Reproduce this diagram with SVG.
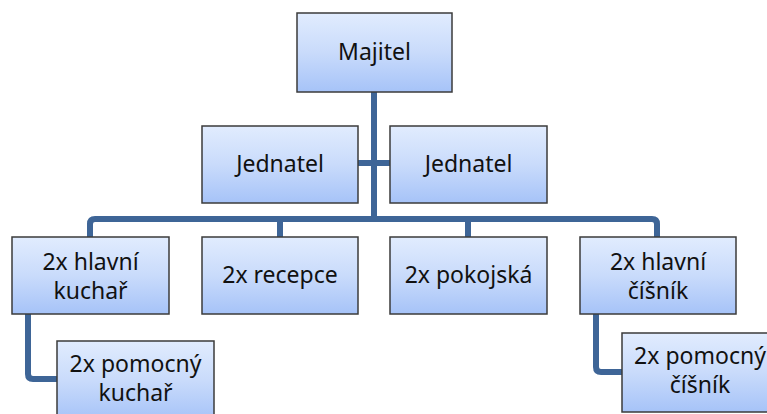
<svg xmlns="http://www.w3.org/2000/svg" width="767" height="414" viewBox="0 0 767 414">
<defs>
<linearGradient id="g" x1="0" y1="0" x2="0" y2="1">
<stop offset="0" stop-color="#e1ecfe"/>
<stop offset="0.5" stop-color="#c9dbfb"/>
<stop offset="1" stop-color="#a6c3f8"/>
</linearGradient>
</defs>
<style>
.box{fill:url(#g);stroke:#3b3b3b;stroke-width:1.5}
.t{font-family:"Noto Sans","Open Sans",sans-serif;font-size:23px;fill:#111;text-anchor:middle}
.c{fill:none;stroke:#3e6597;stroke-width:6;stroke-linejoin:round}
</style>
<rect width="767" height="414" fill="#fff"/>
<g id="connectors">
<path class="c" d="M374,92 V219"/>
<path class="c" d="M358,163 H390"/>
<path class="c" d="M90,237 V224 Q90,219 95,219 H652 Q657,219 657,224 V237"/>
<path class="c" d="M280,219 V237 M468,219 V237"/>
<path class="c" d="M28,314 V374 Q28,379 33,379 H57"/>
<path class="c" d="M596,314 V367 Q596,372 601,372 H622"/>
</g>
<g id="majitel"><rect class="box" x="297" y="13" width="155" height="79"/><text class="t" x="374.5" y="60">Majitel</text></g>
<g id="jednatel1"><rect class="box" x="202" y="126" width="156" height="77"/><text class="t" x="280" y="172">Jednatel</text></g>
<g id="jednatel2"><rect class="box" x="390" y="126" width="157" height="77"/><text class="t" x="468.5" y="172">Jednatel</text></g>
<g id="hlavni-kuchar"><rect class="box" x="12" y="237" width="157" height="77"/><text class="t" x="90.5" y="270">2x hlavní</text><text class="t" x="90.5" y="299">kuchař</text></g>
<g id="recepce"><rect class="box" x="202" y="237" width="156" height="77"/><text class="t" x="280" y="283">2x recepce</text></g>
<g id="pokojska"><rect class="box" x="390" y="237" width="157" height="77"/><text class="t" x="468.5" y="283">2x pokojská</text></g>
<g id="hlavni-cisnik"><rect class="box" x="580" y="237" width="156" height="77"/><text class="t" x="658" y="270">2x hlavní</text><text class="t" x="658" y="299">číšník</text></g>
<g id="pomocny-kuchar"><rect class="box" x="57" y="341" width="157" height="79"/><text class="t" x="135.5" y="372">2x pomocný</text><text class="t" x="135.5" y="401">kuchař</text></g>
<g id="pomocny-cisnik"><rect class="box" x="622" y="333" width="156" height="79"/><text class="t" x="700" y="364">2x pomocný</text><text class="t" x="700" y="393">číšník</text></g>
</svg>
